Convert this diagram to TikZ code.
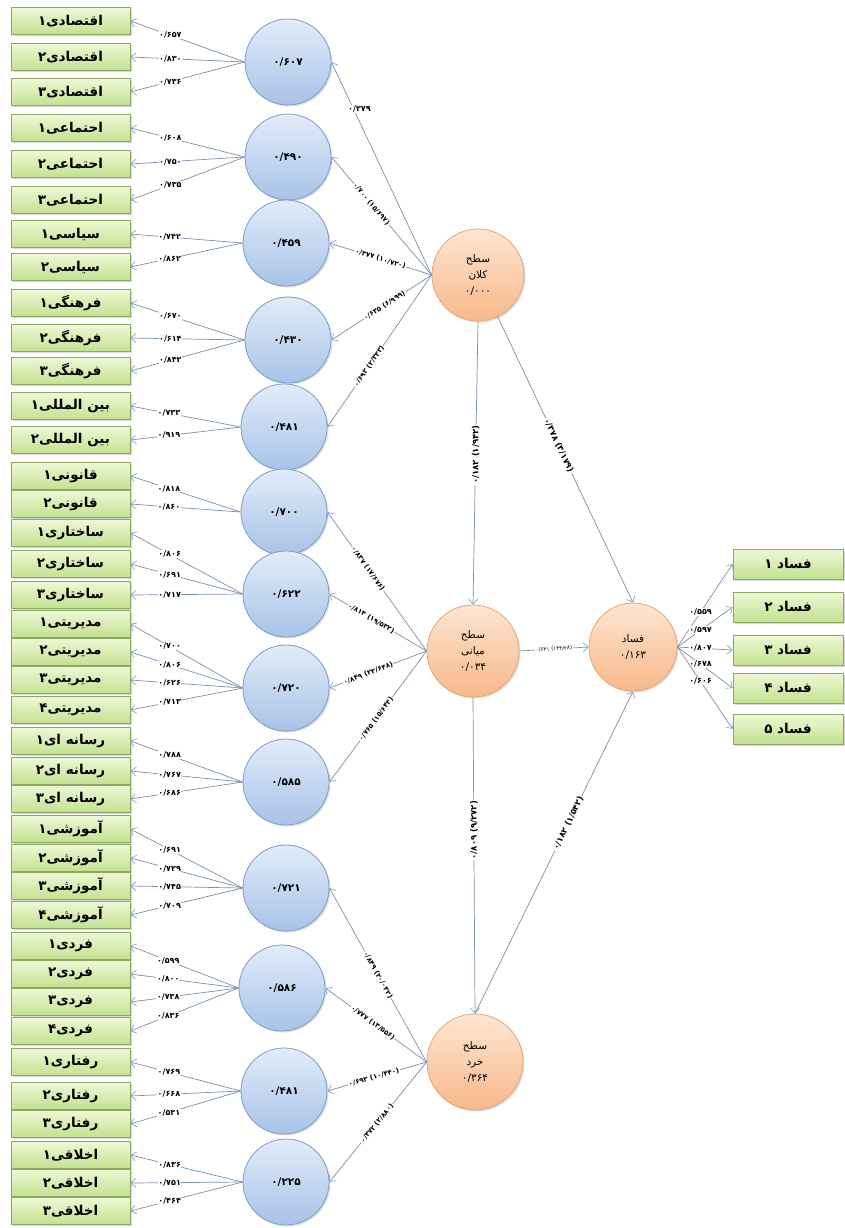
\documentclass[tikz,border=0pt]{standalone}
\usepackage{fontspec}
\usetikzlibrary{arrows.meta,shadows}
\TeXXeTstate=1
\newfontfamily\arabicfont[Script=Arabic]{DejaVu Sans}
\definecolor{boxtop}{HTML}{EEF8D6}
\definecolor{boxbot}{HTML}{C3E190}
\definecolor{boxedge}{HTML}{8CA866}
\definecolor{bluetop}{HTML}{E2ECF9}
\definecolor{bluebot}{HTML}{A8C3E8}
\definecolor{blueedge}{HTML}{7E9DC6}
\definecolor{orgtop}{HTML}{FDE6D2}
\definecolor{orgbot}{HTML}{F7B88A}
\definecolor{orgedge}{HTML}{E7A678}
\definecolor{linecol}{HTML}{7890B0}
\definecolor{tipcol}{HTML}{7FA6D2}
\begin{document}
\begin{tikzpicture}[x=1pt,y=-1pt,
  ind/.style={rectangle, draw=boxedge, line width=0.8pt, top color=boxtop, bottom color=boxbot,
    minimum width=119pt, minimum height=27pt, inner sep=1pt,
    font=\arabicfont\bfseries\fontsize{13.5}{15}\selectfont,
    drop shadow={shadow xshift=1.5pt, shadow yshift=-1.5pt, opacity=0.3}},
  outbox/.style={ind, minimum width=110pt, minimum height=30pt},
  fac/.style={circle, draw=blueedge, line width=0.8pt, top color=bluetop, bottom color=bluebot,
    minimum size=86pt, inner sep=0pt, font=\arabicfont\bfseries\fontsize{10.5}{12}\selectfont,
    drop shadow={shadow xshift=1.5pt, shadow yshift=-1.5pt, opacity=0.25}},
  lat/.style={circle, draw=orgedge, line width=0.8pt, top color=orgtop, bottom color=orgbot,
    minimum size=92pt, inner sep=0pt, align=center, font=\arabicfont\fontsize{10.5}{16}\selectfont,
    drop shadow={shadow xshift=1.5pt, shadow yshift=-1.5pt, opacity=0.25}},
  arr/.style={draw=linecol, line width=0.7pt, -{Straight Barb[length=5pt,width=9pt,color=tipcol]}},
  ldlbl/.style={fill=white, inner sep=0.6pt, font=\arabicfont\bfseries\fontsize{8}{9}\selectfont},
  plbl/.style={sloped, fill=white, inner sep=0.6pt, font=\arabicfont\bfseries\fontsize{7}{8}\selectfont},
  bigplbl/.style={sloped, fill=white, inner sep=1pt, font=\arabicfont\bfseries\fontsize{8.5}{9}\selectfont},
  vlbl/.style={rotate=90, fill=white, inner sep=1pt, font=\arabicfont\bfseries\fontsize{8.5}{9}\selectfont}
]
\fill[white] (0,0) rectangle (844,1228);
\useasboundingbox (0,0) rectangle (844,1228);

% indicator boxes
\node[ind] (b1) at (70.5,21) {\beginR اقتصادی۱\endR};
\node[ind] (b2) at (70.5,57) {\beginR اقتصادی۲\endR};
\node[ind] (b3) at (70.5,92) {\beginR اقتصادی۳\endR};
\node[ind] (b4) at (70.5,128) {\beginR احتماعی۱\endR};
\node[ind] (b5) at (70.5,164) {\beginR احتماعی۲\endR};
\node[ind] (b6) at (70.5,200) {\beginR احتماعی۳\endR};
\node[ind] (b7) at (70.5,234) {\beginR سیاسی۱\endR};
\node[ind] (b8) at (70.5,267) {\beginR سیاسی۲\endR};
\node[ind] (b9) at (70.5,303) {\beginR فرهنگی۱\endR};
\node[ind] (b10) at (70.5,338) {\beginR فرهنگی۲\endR};
\node[ind] (b11) at (70.5,371) {\beginR فرهنگی۳\endR};
\node[ind] (b12) at (70.5,406) {\beginR بین المللی۱\endR};
\node[ind] (b13) at (70.5,440) {\beginR بین المللی۲\endR};
\node[ind] (b14) at (70.5,476) {\beginR قانونی۱\endR};
\node[ind] (b15) at (70.5,504) {\beginR قانونی۲\endR};
\node[ind] (b16) at (70.5,533) {\beginR ساختاری۱\endR};
\node[ind] (b17) at (70.5,564) {\beginR ساختاری۲\endR};
\node[ind] (b18) at (70.5,595) {\beginR ساختاری۳\endR};
\node[ind] (b19) at (70.5,624) {\beginR مدیریتی۱\endR};
\node[ind] (b20) at (70.5,652) {\beginR مدیریتی۲\endR};
\node[ind] (b21) at (70.5,680) {\beginR مدیریتی۳\endR};
\node[ind] (b22) at (70.5,710) {\beginR مدیریتی۴\endR};
\node[ind] (b23) at (70.5,741) {\beginR رسانه ای۱\endR};
\node[ind] (b24) at (70.5,771) {\beginR رسانه ای۲\endR};
\node[ind] (b25) at (70.5,799) {\beginR رسانه ای۳\endR};
\node[ind] (b26) at (70.5,829) {\beginR آموزشی۱\endR};
\node[ind] (b27) at (70.5,858) {\beginR آموزشی۲\endR};
\node[ind] (b28) at (70.5,886) {\beginR آموزشی۳\endR};
\node[ind] (b29) at (70.5,915) {\beginR آموزشی۴\endR};
\node[ind] (b30) at (70.5,946) {\beginR فردی۱\endR};
\node[ind] (b31) at (70.5,974) {\beginR فردی۲\endR};
\node[ind] (b32) at (70.5,1002) {\beginR فردی۳\endR};
\node[ind] (b33) at (70.5,1031) {\beginR فردی۴\endR};
\node[ind] (b34) at (70.5,1062) {\beginR رفتاری۱\endR};
\node[ind] (b35) at (70.5,1096) {\beginR رفتاری۲\endR};
\node[ind] (b36) at (70.5,1124) {\beginR رفتاری۳\endR};
\node[ind] (b37) at (70.5,1155) {\beginR اخلاقی۱\endR};
\node[ind] (b38) at (70.5,1183) {\beginR اخلاقی۲\endR};
\node[ind] (b39) at (70.5,1211) {\beginR اخلاقی۳\endR};

% first-order factors
\node[fac] (c1) at (288,62) {۰/۶۰۷};
\node[fac] (c2) at (288,157) {۰/۴۹۰};
\node[fac] (c3) at (286,243) {۰/۴۵۹};
\node[fac] (c4) at (288,340) {۰/۴۳۰};
\node[fac] (c5) at (284,427) {۰/۴۸۱};
\node[fac] (c6) at (284,512) {۰/۷۰۰};
\node[fac] (c7) at (286,594) {۰/۶۲۲};
\node[fac] (c8) at (286,688) {۰/۷۲۰};
\node[fac] (c9) at (286,782) {۰/۵۸۵};
\node[fac] (c10) at (286,888) {۰/۷۲۱};
\node[fac] (c11) at (282,988) {۰/۵۸۶};
\node[fac] (c12) at (284,1091) {۰/۴۸۱};
\node[fac] (c13) at (286,1182) {۰/۲۲۵};

% second-order and outcome
\node[lat] (macro) at (478,275) {\beginR سطح\endR\\\beginR کلان\endR\\۰/۰۰۰};
\node[lat] (middle) at (473,651) {\beginR سطح\endR\\\beginR میانی\endR\\۰/۰۳۴};
\node[lat, minimum size=96pt] (micro) at (475,1062) {\beginR سطح\endR\\\beginR خرد\endR\\۰/۳۶۴};
\node[lat, minimum size=88pt] (fasad) at (633,647) {\beginR فساد\endR\\۰/۱۶۳};

% outcome indicators
\node[outbox] (f1) at (788,564) {\beginR فساد ۱\endR};
\node[outbox] (f2) at (788,607) {\beginR فساد ۲\endR};
\node[outbox] (f3) at (788,650) {\beginR فساد ۳\endR};
\node[outbox] (f4) at (788,688) {\beginR فساد ۴\endR};
\node[outbox] (f5) at (788,729) {\beginR فساد ۵\endR};

% loadings of indicators
\draw[arr] (c1.west) -- node[ldlbl,pos=0.65]{۰/۶۵۷} (b1.east);
\draw[arr] (c1.west) -- node[ldlbl,pos=0.65]{۰/۸۳۰} (b2.east);
\draw[arr] (c1.west) -- node[ldlbl,pos=0.65]{۰/۷۳۶} (b3.east);
\draw[arr] (c2.west) -- node[ldlbl,pos=0.65]{۰/۶۰۸} (b4.east);
\draw[arr] (c2.west) -- node[ldlbl,pos=0.65]{۰/۷۵۰} (b5.east);
\draw[arr] (c2.west) -- node[ldlbl,pos=0.65]{۰/۷۳۵} (b6.east);
\draw[arr] (c3.west) -- node[ldlbl,pos=0.65]{۰/۷۴۲} (b7.east);
\draw[arr] (c3.west) -- node[ldlbl,pos=0.65]{۰/۸۶۲} (b8.east);
\draw[arr] (c4.west) -- node[ldlbl,pos=0.65]{۰/۶۷۰} (b9.east);
\draw[arr] (c4.west) -- node[ldlbl,pos=0.65]{۰/۶۱۴} (b10.east);
\draw[arr] (c4.west) -- node[ldlbl,pos=0.65]{۰/۸۴۲} (b11.east);
\draw[arr] (c5.west) -- node[ldlbl,pos=0.65]{۰/۷۳۳} (b12.east);
\draw[arr] (c5.west) -- node[ldlbl,pos=0.65]{۰/۹۱۹} (b13.east);
\draw[arr] (c6.west) -- node[ldlbl,pos=0.65]{۰/۸۱۸} (b14.east);
\draw[arr] (c6.west) -- node[ldlbl,pos=0.65]{۰/۸۶۰} (b15.east);
\draw[arr] (c7.west) -- node[ldlbl,pos=0.65]{۰/۸۰۶} (b16.east);
\draw[arr] (c7.west) -- node[ldlbl,pos=0.65]{۰/۶۹۱} (b17.east);
\draw[arr] (c7.west) -- node[ldlbl,pos=0.65]{۰/۷۱۷} (b18.east);
\draw[arr] (c8.west) -- node[ldlbl,pos=0.65]{۰/۷۰۰} (b19.east);
\draw[arr] (c8.west) -- node[ldlbl,pos=0.65]{۰/۸۰۶} (b20.east);
\draw[arr] (c8.west) -- node[ldlbl,pos=0.65]{۰/۶۲۶} (b21.east);
\draw[arr] (c8.west) -- node[ldlbl,pos=0.65]{۰/۷۱۳} (b22.east);
\draw[arr] (c9.west) -- node[ldlbl,pos=0.65]{۰/۷۸۸} (b23.east);
\draw[arr] (c9.west) -- node[ldlbl,pos=0.65]{۰/۷۶۷} (b24.east);
\draw[arr] (c9.west) -- node[ldlbl,pos=0.65]{۰/۶۸۶} (b25.east);
\draw[arr] (c10.west) -- node[ldlbl,pos=0.65]{۰/۶۹۱} (b26.east);
\draw[arr] (c10.west) -- node[ldlbl,pos=0.65]{۰/۷۲۹} (b27.east);
\draw[arr] (c10.west) -- node[ldlbl,pos=0.65]{۰/۷۴۵} (b28.east);
\draw[arr] (c10.west) -- node[ldlbl,pos=0.65]{۰/۷۰۹} (b29.east);
\draw[arr] (c11.west) -- node[ldlbl,pos=0.65]{۰/۵۹۹} (b30.east);
\draw[arr] (c11.west) -- node[ldlbl,pos=0.65]{۰/۸۰۰} (b31.east);
\draw[arr] (c11.west) -- node[ldlbl,pos=0.65]{۰/۷۳۸} (b32.east);
\draw[arr] (c11.west) -- node[ldlbl,pos=0.65]{۰/۸۳۶} (b33.east);
\draw[arr] (c12.west) -- node[ldlbl,pos=0.65]{۰/۷۶۹} (b34.east);
\draw[arr] (c12.west) -- node[ldlbl,pos=0.65]{۰/۶۶۸} (b35.east);
\draw[arr] (c12.west) -- node[ldlbl,pos=0.65]{۰/۵۳۱} (b36.east);
\draw[arr] (c13.west) -- node[ldlbl,pos=0.65]{۰/۸۳۶} (b37.east);
\draw[arr] (c13.west) -- node[ldlbl,pos=0.65]{۰/۷۵۱} (b38.east);
\draw[arr] (c13.west) -- node[ldlbl,pos=0.65]{۰/۴۶۴} (b39.east);

% second-order paths
\draw[arr] (macro.west) -- node[ldlbl,pos=0.78,xshift=6pt]{۰/۲۷۹} (c1.east);
\draw[arr] (macro.west) -- node[plbl,pos=0.6]{\beginL۰/۷۰۰ (۱۵/۶۹۷)\endL} (c2.east);
\draw[arr] (macro.west) -- node[plbl,pos=0.5]{\beginL۰/۳۷۷ (۱۰/۷۲۰)\endL} (c3.east);
\draw[arr] (macro.west) -- node[plbl,pos=0.47]{\beginL۰/۶۳۵ (۶/۹۹۹)\endL} (c4.east);
\draw[arr] (macro.west) -- node[plbl,pos=0.6]{\beginL۰/۶۹۳ (۲/۳۳۳)\endL} (c5.east);
\draw[arr] (middle.west) -- node[plbl,pos=0.59]{\beginL۰/۸۳۷ (۱۷/۶۷۶)\endL} (c6.east);
\draw[arr] (middle.west) -- node[plbl,pos=0.57]{\beginL۰/۸۱۴ (۱۹/۵۳۲)\endL} (c7.east);
\draw[arr] (middle.west) -- node[plbl,pos=0.6]{\beginL۰/۸۴۹ (۲۳/۶۴۸)\endL} (c8.east);
\draw[arr] (middle.west) -- node[plbl,pos=0.52]{\beginL۰/۷۶۵ (۱۵/۶۴۴)\endL} (c9.east);
\draw[arr] (micro.west) -- node[plbl,pos=0.5]{\beginL۰/۸۴۹ (۲۰/۰۴۲)\endL} (c10.east);
\draw[arr] (micro.west) -- node[plbl,pos=0.53]{\beginL۰/۷۷۷ (۱۳/۵۵۶)\endL} (c11.east);
\draw[arr] (micro.west) -- node[plbl,pos=0.53]{\beginL۰/۶۹۳ (۱۰/۴۴۰)\endL} (c12.east);
\draw[arr] (micro.west) -- node[plbl,pos=0.51]{\beginL۰/۴۷۲ (۲/۸۸۰)\endL} (c13.east);

% structural paths
\draw[arr] (macro.south) -- node[vlbl,pos=0.47]{\beginL۰/۱۸۲ (۱/۹۴۲)\endL} (middle.north);
\draw[arr] (macro) -- node[bigplbl,pos=0.45]{\beginL۰/۳۷۸ (۳/۱۷۹)\endL} (fasad.north);
\draw[arr] (middle.east) -- node[plbl,pos=0.5,font=\arabicfont\fontsize{5.5}{6}\selectfont]{\beginL۰/۶۳۱ (۱۴۳/۲۸)\endL} (fasad.west);
\draw[arr] (middle.south) -- node[vlbl,pos=0.42]{\beginL۰/۸۰۹ (۹/۲۷۲)\endL} (micro.north);
\draw[arr] (micro.north) -- node[bigplbl,pos=0.59]{\beginL۰/۱۸۲ (۱/۵۴۲)\endL} (fasad.south);

% outcome loadings
\draw[arr] (fasad.east) -- node[ldlbl,pos=0.42]{۰/۵۵۹} (f1.west);
\draw[arr] (fasad.east) -- node[ldlbl,pos=0.42]{۰/۵۹۷} (f2.west);
\draw[arr] (fasad.east) -- node[ldlbl,pos=0.42]{۰/۸۰۷} (f3.west);
\draw[arr] (fasad.east) -- node[ldlbl,pos=0.42]{۰/۶۷۸} (f4.west);
\draw[arr] (fasad.east) -- node[ldlbl,pos=0.42]{۰/۶۰۶} (f5.west);
\end{tikzpicture}
\end{document}
